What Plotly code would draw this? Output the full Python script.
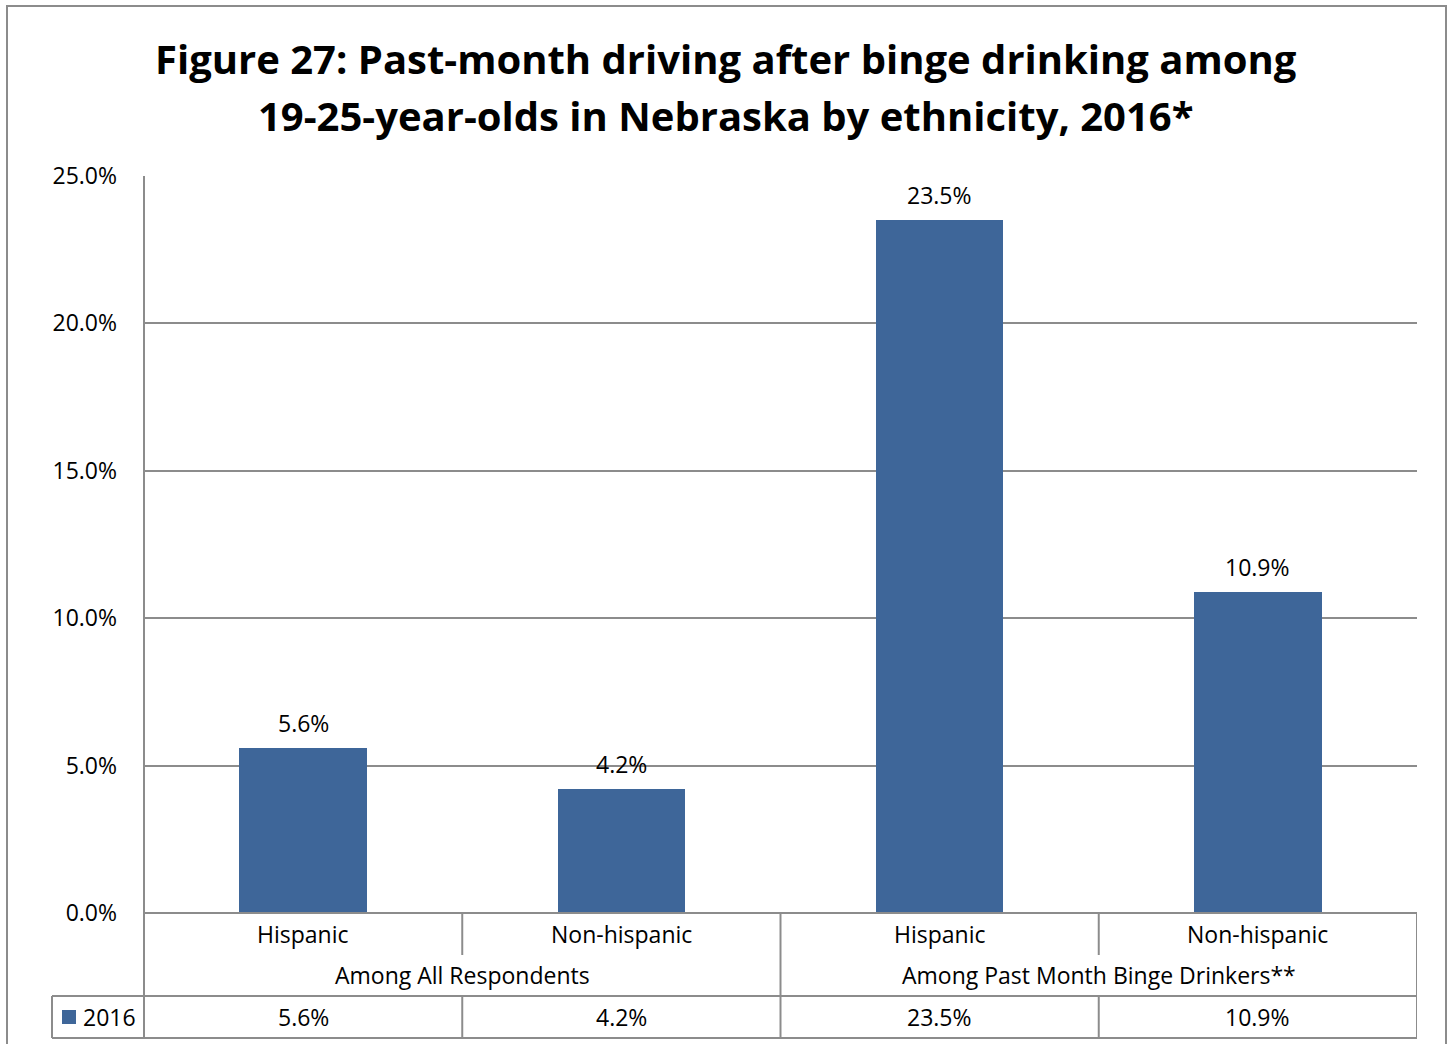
import plotly.graph_objects as go

# Data
ethnicity = ["Hispanic", "Non-hispanic", "Hispanic", "Non-hispanic"]
groups = ["Among All Respondents", "Among Past Month Binge Drinkers**"]
values_2016 = [5.6, 4.2, 23.5, 10.9]
series_name = "2016"
y_ticks = [0, 5, 10, 15, 20, 25]
title_lines = [
    "Figure 27: Past-month driving after binge drinking among",
    "19-25-year-olds in Nebraska by ethnicity, 2016*",
]

BAR_COLOR = "#3E6699"
LINE_COLOR = "#8C8C8C"
FONT = "Open Sans"
TEXT_SIZE = 23

W, H = 1450, 1044
L, R, T, B = 144, 33, 176, 131
plot_h = H - T - B
plot_w = W - L - R


def py(pixel_y):
    """Convert a page y pixel to paper coordinates."""
    return (H - B - pixel_y) / plot_h


def px(pixel_x):
    """Convert a page x pixel to paper coordinates."""
    return (pixel_x - L) / plot_w


xs = list(range(len(values_2016)))

fig = go.Figure()
fig.add_trace(go.Bar(
    x=xs, y=values_2016, width=0.4, marker_color=BAR_COLOR,
    marker_line_width=0, name=series_name, showlegend=False,
    hoverinfo="skip",
))

shapes = []
annotations = []
tfont = dict(size=TEXT_SIZE, color="#000", family=FONT)

# Title, two centred lines
for line_text, cy in zip(title_lines, (58, 116)):
    annotations.append(dict(
        x=px(726), y=py(cy), xref="paper", yref="paper", text=f"<b>{line_text}</b>",
        showarrow=False, xanchor="center", yanchor="middle",
        font=dict(size=40, color="#000", family=FONT),
    ))

# Value labels above bars
for x, v in zip(xs, values_2016):
    annotations.append(dict(
        x=x, y=v, xref="x", yref="y", text=f"{v:.1f}%", showarrow=False,
        yanchor="bottom", yshift=7, font=tfont,
    ))

# Data table beneath the axis
row1_y = py(955)
row2_y = py(996)
row3_y = py(1038)
line = dict(color=LINE_COLOR, width=2)

# horizontal rules
shapes.append(dict(type="line", xref="x", yref="paper", x0=-0.5, x1=3.5, y0=0, y1=0, line=line))
shapes.append(dict(type="line", xref="paper", yref="paper", x0=px(52), x1=1, y0=row2_y, y1=row2_y, line=line))
shapes.append(dict(type="line", xref="paper", yref="paper", x0=px(52), x1=1, y0=row3_y, y1=row3_y, line=line))
# verticals
shapes.append(dict(type="line", xref="paper", yref="paper", x0=0, x1=0, y0=1, y1=row3_y, line=line))
shapes.append(dict(type="line", xref="paper", yref="paper", x0=px(52), x1=px(52), y0=row2_y, y1=row3_y, line=line))
shapes.append(dict(type="line", xref="x", yref="paper", x0=3.5, x1=3.5, y0=0, y1=row3_y, line=line))
shapes.append(dict(type="line", xref="x", yref="paper", x0=1.5, x1=1.5, y0=0, y1=row3_y, line=line))
for sep in (0.5, 2.5):
    shapes.append(dict(type="line", xref="x", yref="paper", x0=sep, x1=sep, y0=0, y1=row1_y, line=line))
    shapes.append(dict(type="line", xref="x", yref="paper", x0=sep, x1=sep, y0=row2_y, y1=row3_y, line=line))

for x, name in zip(xs, ethnicity):
    annotations.append(dict(x=x, y=py(934), xref="x", yref="paper", text=name,
                            showarrow=False, yanchor="middle", font=tfont))
for i, g in enumerate(groups):
    annotations.append(dict(x=0.5 + 2 * i, y=py(975), xref="x", yref="paper", text=g,
                            showarrow=False, yanchor="middle", font=tfont))
for x, v in zip(xs, values_2016):
    annotations.append(dict(x=x, y=py(1017), xref="x", yref="paper", text=f"{v:.1f}%",
                            showarrow=False, yanchor="middle", font=tfont))

# legend key in the table
shapes.append(dict(type="rect", xref="paper", yref="paper", x0=px(62), x1=px(76),
                   y0=py(1024), y1=py(1010), fillcolor=BAR_COLOR, line=dict(width=0)))
annotations.append(dict(x=px(81), y=py(1017), xref="paper", yref="paper", text=series_name,
                        showarrow=False, xanchor="left", yanchor="middle", font=tfont))

# outer chart border
shapes.append(dict(type="rect", xref="paper", yref="paper", x0=px(7), x1=px(1446),
                   y0=py(1060), y1=py(6), line=dict(color=LINE_COLOR, width=2)))

fig.update_layout(
    width=W, height=H,
    margin=dict(l=L, r=R, t=T, b=B, pad=0),
    paper_bgcolor="white", plot_bgcolor="white",
    xaxis=dict(range=[-0.5, 3.5], showticklabels=False, showgrid=False,
               zeroline=False, ticks="", fixedrange=True),
    yaxis=dict(range=[0, 25], tickvals=y_ticks,
               ticktext=[f"{t:.1f}%" for t in y_ticks],
               tickfont=tfont,
               showgrid=True, gridcolor=LINE_COLOR, gridwidth=1.5,
               zeroline=False, ticks="", ticklabelstandoff=26, fixedrange=True),
    shapes=shapes,
    annotations=annotations,
    bargap=0,
    font=dict(family=FONT),
)

fig.write_html("out.html")
